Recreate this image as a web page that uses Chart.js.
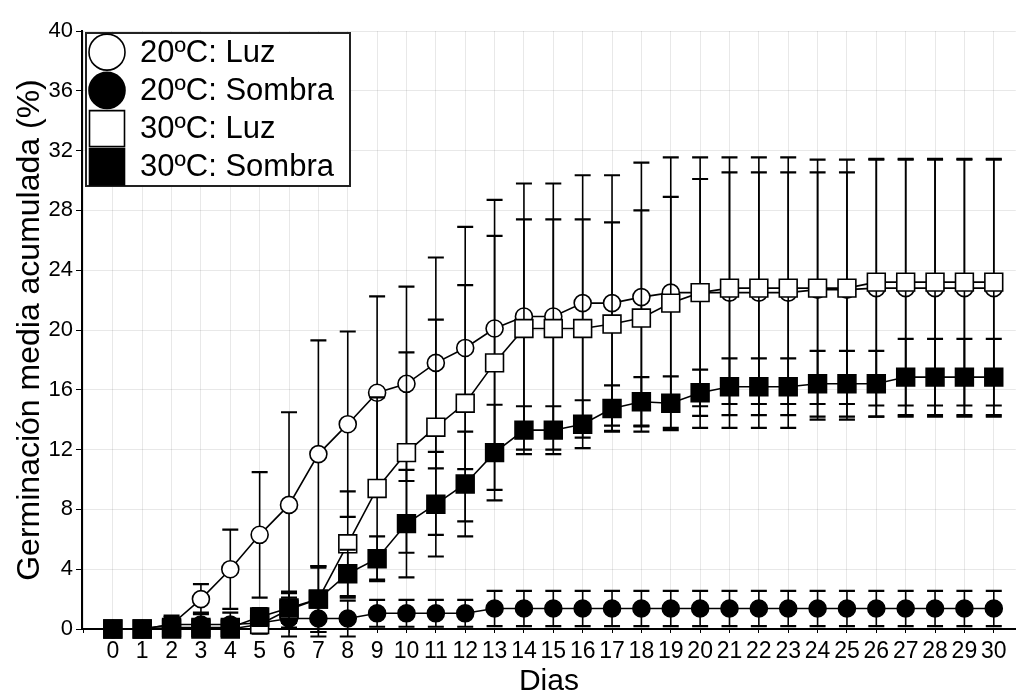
<!DOCTYPE html>
<html lang="es">
<head>
<meta charset="utf-8">
<title>Germinación media acumulada</title>
<script src="https://cdn.jsdelivr.net/npm/chart.js@4.4.1/dist/chart.umd.min.js"></script>
<style>
    html, body { margin: 0; padding: 0; background: #fff; }
    #contenedor { width: 1030px; height: 696px; }
</style>
</head>
<body>
<div id="contenedor"><canvas id="germinacionChart"></canvas></div>
<script>
// Días de ensayo
const dias = [0, 1, 2, 3, 4, 5, 6, 7, 8, 9, 10, 11, 12, 13, 14, 15, 16, 17, 18, 19, 20, 21, 22, 23, 24, 25, 26, 27, 28, 29, 30];

// Germinación media acumulada (%) por tratamiento
const luz20 = [0, 0, 0.3, 2.0, 4.0, 6.3, 8.3, 11.7, 13.7, 15.8, 16.4, 17.8, 18.8, 20.1, 20.9, 20.9, 21.8, 21.8, 22.2, 22.5, 22.5, 22.5, 22.5, 22.5, 22.7, 22.7, 22.8, 22.8, 22.8, 22.8, 22.8];
const sombra20 = [0, 0, 0.3, 0.3, 0.3, 0.4, 0.7, 0.7, 0.7, 1.05, 1.05, 1.05, 1.05, 1.37, 1.37, 1.37, 1.37, 1.37, 1.37, 1.37, 1.37, 1.37, 1.37, 1.37, 1.37, 1.37, 1.37, 1.37, 1.37, 1.37, 1.37];
const luz30 = [0, 0, 0, 0, 0, 0.3, 1.3, 2.0, 5.7, 9.4, 11.8, 13.5, 15.1, 17.8, 20.1, 20.1, 20.1, 20.4, 20.8, 21.8, 22.5, 22.8, 22.8, 22.8, 22.8, 22.8, 23.2, 23.2, 23.2, 23.2, 23.2];
const sombra30 = [0, 0, 0.1, 0.1, 0.1, 0.8, 1.4, 2.0, 3.7, 4.7, 7.05, 8.35, 9.7, 11.8, 13.3, 13.3, 13.7, 14.75, 15.2, 15.1, 15.8, 16.2, 16.2, 16.2, 16.4, 16.4, 16.4, 16.85, 16.85, 16.85, 16.85];

// Desviaciones (barras de error)
const errLuz20 = [0, 0, 0.5, 1.0, 2.65, 4.2, 6.2, 7.6, 6.2, 6.45, 6.5, 7.05, 8.1, 8.6, 8.9, 8.9, 8.55, 8.55, 9.0, 9.05, 9.05, 9.05, 9.05, 9.05, 8.7, 8.7, 8.6, 8.6, 8.6, 8.6, 8.6];
const errSombra20 = [0, 0, 0.6, 0.8, 0.8, 0.7, 1.2, 1.2, 1.2, 0.9, 0.9, 0.9, 0.9, 1.18, 1.18, 1.18, 1.18, 1.18, 1.18, 1.18, 1.18, 1.18, 1.18, 1.18, 1.18, 1.18, 1.18, 1.18, 1.18, 1.18, 1.18];
const errLuz30 = [0, 0, 0, 0, 0, 0.6, 1.2, 2.2, 3.5, 6.1, 6.7, 7.2, 7.9, 8.5, 7.3, 7.3, 7.3, 6.8, 7.2, 7.1, 7.6, 7.75, 7.75, 7.75, 7.75, 7.75, 8.25, 8.25, 8.25, 8.25, 8.25];
const errSombra30 = [0, 0, 0, 0.4, 0.4, 0.6, 1.0, 2.2, 1.6, 1.5, 3.6, 3.5, 3.5, 3.2, 1.6, 1.6, 1.6, 1.55, 1.65, 1.8, 1.55, 1.9, 1.9, 1.9, 2.2, 2.2, 2.2, 2.55, 2.55, 2.55, 2.55];

const ticksY = [0, 4, 8, 12, 16, 20, 24, 28, 32, 36, 40];

const fuente = "'Liberation Sans', Arial, sans-serif";
Chart.defaults.font.family = fuente;
Chart.defaults.color = '#000';

function puntos(serie) {
    return dias.map((d, i) => ({ x: d, y: serie[i] }));
}

function serie(label, valores, errores, estilo, relleno, orden) {
    return {
        label: label,
        data: puntos(valores),
        errores: errores,
        borderColor: '#000',
        borderWidth: 1.6,
        pointStyle: estilo,
        pointRadius: estilo === 'rect' ? 12.6 : 8.5,
        pointBorderWidth: 1.6,
        pointBorderColor: '#000',
        pointBackgroundColor: relleno,
        backgroundColor: relleno,
        tension: 0,
        clip: false,
        order: orden
    };
}

// barras de error, dibujadas justo antes de cada serie
const barrasError = {
    id: 'barrasError',
    beforeDatasetDraw(chart, args) {
        const ds = chart.data.datasets[args.index];
        const ctx = chart.ctx;
        const escalaY = chart.scales.y;
        ctx.save();
        ctx.strokeStyle = '#000';
        args.meta.data.forEach((pt, i) => {
            const e = ds.errores[i];
            if (!e) return;
            const v = ds.data[i].y;
            const arriba = escalaY.getPixelForValue(v + e);
            const abajo = escalaY.getPixelForValue(v - e);
            ctx.lineWidth = 1.6;
            ctx.beginPath();
            ctx.moveTo(pt.x, arriba);
            ctx.lineTo(pt.x, abajo);
            ctx.stroke();
            ctx.lineWidth = 2.2;
            ctx.beginPath();
            ctx.moveTo(pt.x - 8, arriba);
            ctx.lineTo(pt.x + 8, arriba);
            ctx.moveTo(pt.x - 8, abajo);
            ctx.lineTo(pt.x + 8, abajo);
            ctx.stroke();
        });
        ctx.restore();
    }
};

// leyenda en recuadro dentro del área del gráfico
const leyendaCaja = {
    id: 'leyendaCaja',
    afterDraw(chart) {
        const { ctx, chartArea } = chart;
        const x0 = chartArea.left + 4;
        const y0 = chartArea.top + 2;
        const ancho = 264, alto = 153;
        const fila = alto / 4;
        ctx.save();
        ctx.fillStyle = '#fff';
        ctx.fillRect(x0, y0, ancho, alto);
        ctx.strokeStyle = '#222';
        ctx.lineWidth = 2;
        ctx.strokeRect(x0, y0, ancho, alto);
        chart.data.datasets.forEach((ds, i) => {
            const cy = y0 + fila * (i + 0.5);
            const cx = x0 + 21;
            ctx.fillStyle = ds.pointBackgroundColor;
            ctx.strokeStyle = '#000';
            ctx.lineWidth = 1.6;
            ctx.beginPath();
            if (ds.pointStyle === 'circle') {
                ctx.arc(cx, cy, 18, 0, Math.PI * 2);
            } else {
                ctx.rect(cx - 17.5, cy - 18, 35, 36);
            }
            ctx.fill();
            ctx.stroke();
            ctx.fillStyle = '#000';
            ctx.font = '31px ' + fuente;
            ctx.textBaseline = 'middle';
            ctx.textAlign = 'left';
            ctx.fillText(ds.label, x0 + 54, cy + 1);
        });
        ctx.restore();
    }
};

const ctx = document.getElementById('germinacionChart').getContext('2d');
const chart = new Chart(ctx, {
    type: 'line',
    data: {
        datasets: [
            serie('20ºC: Luz', luz20, errLuz20, 'circle', '#fff', 4),
            serie('20ºC: Sombra', sombra20, errSombra20, 'circle', '#000', 3),
            serie('30ºC: Luz', luz30, errLuz30, 'rect', '#fff', 2),
            serie('30ºC: Sombra', sombra30, errSombra30, 'rect', '#000', 1)
        ]
    },
    options: {
        responsive: true,
        maintainAspectRatio: false,
        animation: false,
        layout: { padding: { top: 31, right: 0, bottom: 0, left: 0 } },
        plugins: {
            legend: { display: false },
            tooltip: { enabled: false }
        },
        scales: {
            x: {
                type: 'linear',
                min: -1.05,
                max: 30.75,
                afterFit(scale) { scale.height = 67; },
                border: { color: '#000', width: 2 },
                grid: { color: 'rgba(0,0,0,0.09)', tickColor: '#000', tickLength: 4 },
                ticks: {
                    stepSize: 1,
                    includeBounds: false,
                    autoSkip: false,
                    maxRotation: 0,
                    padding: 5,
                    font: { size: 23 },
                    callback: (v) => (dias.includes(v) ? String(v) : '')
                },
                title: {
                    display: true,
                    text: 'Dias',
                    font: { size: 30, lineHeight: 1 },
                    padding: { top: 0, bottom: -1 }
                }
            },
            y: {
                min: 0,
                max: 40,
                afterFit(scale) { scale.width = 82; },
                afterBuildTicks(scale) { scale.ticks = ticksY.map((v) => ({ value: v })); },
                border: { color: '#000', width: 2 },
                grid: { color: 'rgba(0,0,0,0.09)', tickColor: '#000', tickLength: 6 },
                ticks: { padding: 3, font: { size: 22 } },
                title: {
                    display: true,
                    text: 'Germinación media acumulada (%)',
                    font: { size: 32, lineHeight: 1 },
                    padding: { top: 14, bottom: 0 }
                }
            }
        }
    },
    plugins: [barrasError, leyendaCaja]
});
</script>
</body>
</html>
